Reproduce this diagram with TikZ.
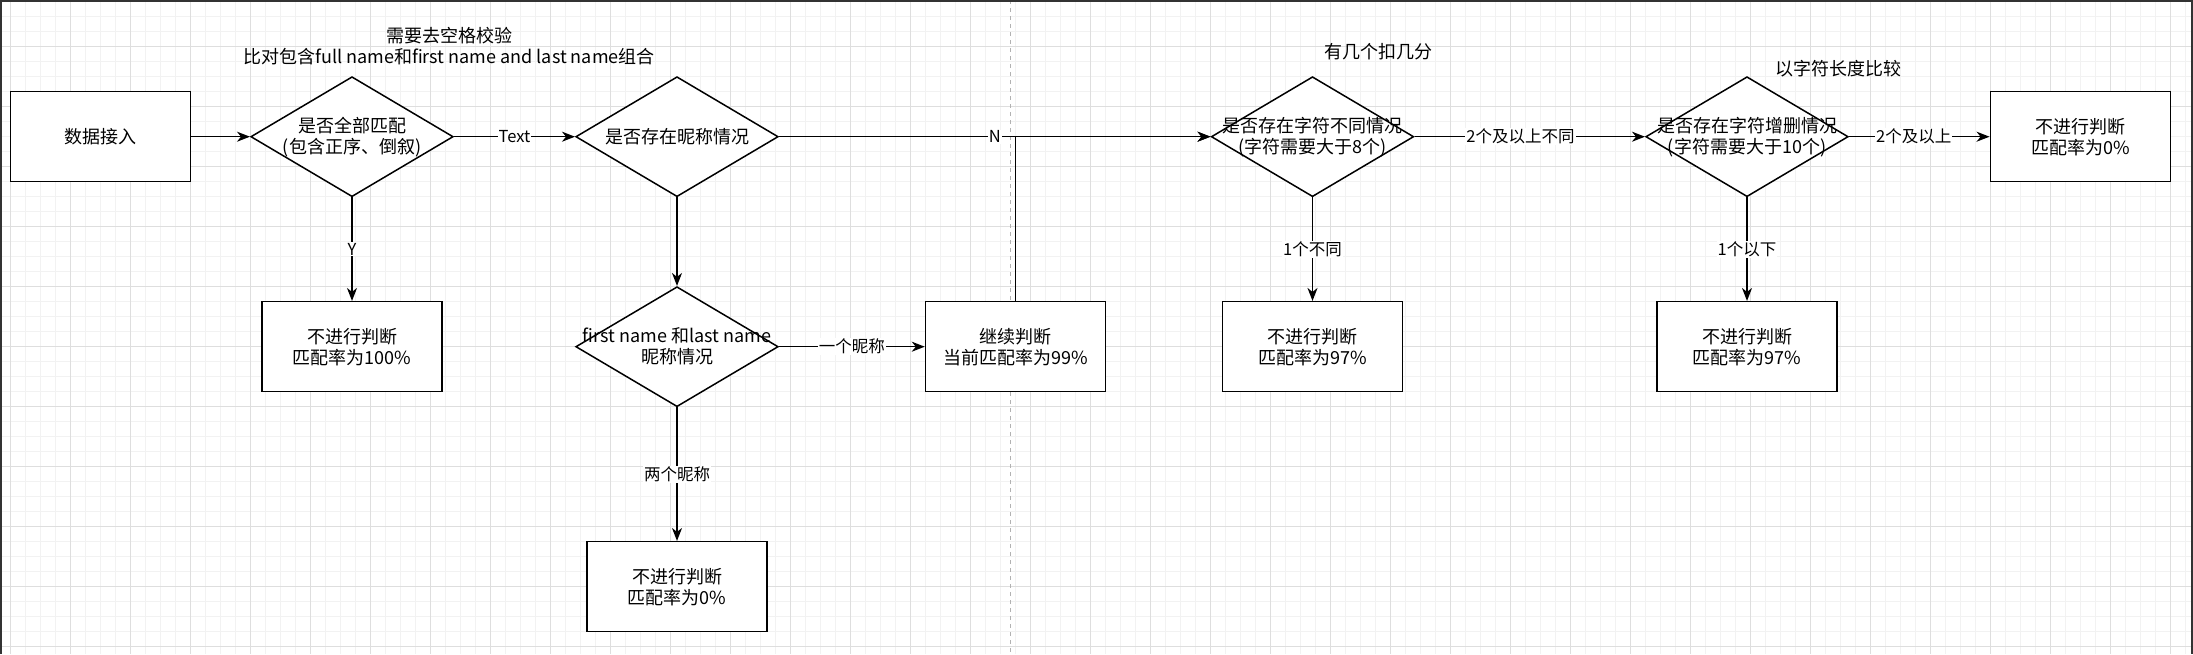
\documentclass[tikz,border=0pt]{standalone}
\usepackage{fontspec}
\setmainfont{Noto Sans CJK SC}
\usetikzlibrary{shapes.geometric,arrows.meta}

\newcommand{\nodefont}{\fontsize{18}{21}\selectfont}
\newcommand{\edgefont}{\fontsize{16.5}{19}\selectfont}

\begin{document}
\begin{tikzpicture}[x=1pt,y=-1pt,->,>={Stealth[length=13pt,width=10pt,inset=4pt]},
                    line width=1.5pt,font=\nodefont,
                    process/.style={rectangle,draw,fill=white,minimum width=180pt,
                                    minimum height=90pt,inner sep=0pt,align=center},
                    decision/.style={diamond,draw,fill=white,minimum width=202.5pt,
                                     minimum height=120pt,inner sep=0pt},
                    note/.style={align=center},
                    elabel/.style={fill=white,inner sep=1pt,font=\edgefont}]

  \useasboundingbox (0,0) rectangle (2193,654);

  % background grid
  \begin{scope}[-]
    \foreach \gx in {10.7,25.7,...,2193} \draw[black!5,line width=0.6pt] (\gx,0) -- (\gx,654);
    \foreach \gy in {1.7,16.7,...,654} \draw[black!5,line width=0.6pt] (0,\gy) -- (2193,\gy);
    \foreach \gx in {10.7,70.7,...,2193} \draw[black!13,line width=0.8pt] (\gx,0) -- (\gx,654);
    \foreach \gy in {46.7,106.7,...,654} \draw[black!13,line width=0.8pt] (0,\gy) -- (2193,\gy);
    \draw[black!30,dash pattern=on 4pt off 4pt] (1010.7,0) -- (1010.7,654);
    \draw[black!80,line width=4pt] (0,654) -- (0,0) -- (2193,0) -- (2193,654);
  \end{scope}

  \node[process] (input) at (100.7,136.7) {数据接入};
  \node[decision,label={[align=center]center:是否全部匹配\\(包含正序、倒叙)}] (allmatch) at (352,136.7) {};
  \node[process] (full) at (352,346.7) {不进行判断\\匹配率为100\%};
  \node[decision,label={[align=center]center:是否存在昵称情况}] (nick) at (677,136.7) {};
  \node[decision,label={[align=center]center:first name 和last name\\昵称情况}] (nickpair) at (677,346.7) {};
  \node[process] (zeroa) at (677,586.7) {不进行判断\\匹配率为0\%};
  \node[process] (cont) at (1015.5,346.7) {继续判断\\当前匹配率为99\%};
  \node[decision,label={[align=center]center:是否存在字符不同情况\\(字符需要大于8个)}] (chardiff) at (1312.5,136.7) {};
  \node[process] (diffone) at (1312.5,346.7) {不进行判断\\匹配率为97\%};
  \node[decision,label={[align=center]center:是否存在字符增删情况\\(字符需要大于10个)}] (charlen) at (1747,136.7) {};
  \node[process] (lenone) at (1747,346.7) {不进行判断\\匹配率为97\%};
  \node[process] (zerob) at (2080.3,136.7) {不进行判断\\匹配率为0\%};

  \node[note] (trimnote) at (449,46.5) {需要去空格校验\\比对包含full name和first name and last name组合};
  \node[note] (diffnote) at (1378,51.7) {有几个扣几分};
  \node[note] (lennote) at (1838,69) {以字符长度比较};

  \path (input) edge (allmatch)
        (allmatch) edge node[elabel] {Text} (nick)
        (allmatch) edge node[elabel] {Y} (full)
        (nick) edge (nickpair)
        (nickpair) edge node[elabel] {一个昵称} (cont)
        (nickpair) edge node[elabel] {两个昵称} (zeroa)
        (nick) edge node[elabel] {N} (chardiff)
        (chardiff) edge node[elabel] {1个不同} (diffone)
        (chardiff) edge node[elabel,pos=0.46] {2个及以上不同} (charlen)
        (charlen) edge node[elabel] {1个以下} (lenone)
        (charlen) edge node[elabel,pos=0.46] {2个及以上} (zerob);
  \draw (cont) |- (chardiff);
\end{tikzpicture}
\end{document}
